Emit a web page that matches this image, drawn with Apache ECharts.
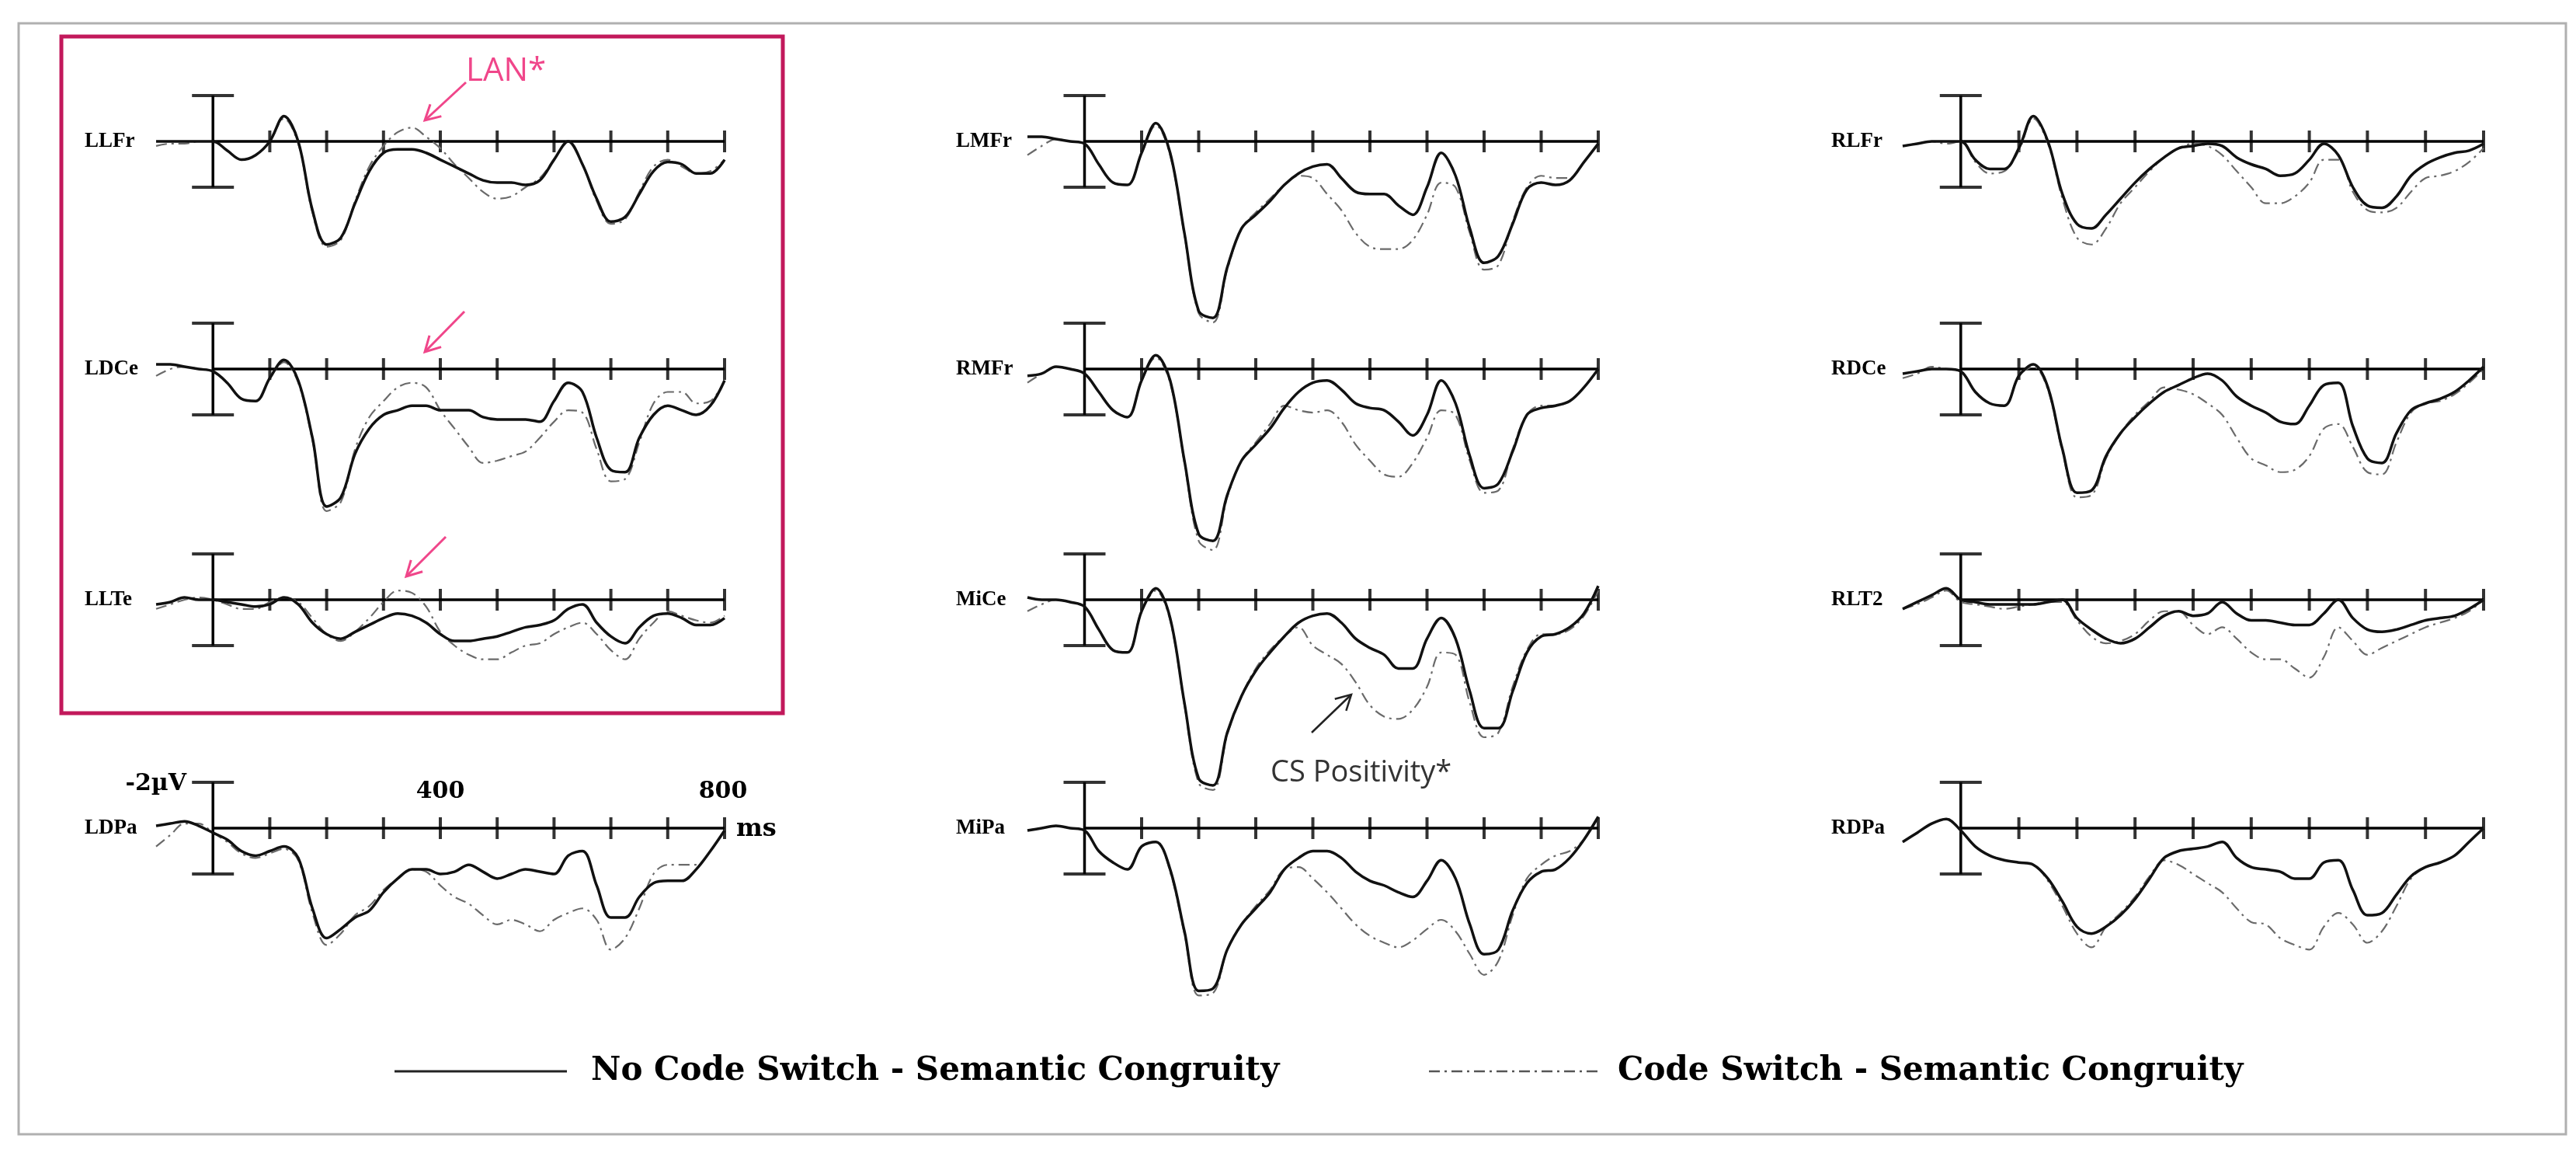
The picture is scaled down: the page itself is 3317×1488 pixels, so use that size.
<!DOCTYPE html>
<html>
<head>
<meta charset="utf-8">
<script src="https://cdn.jsdelivr.net/npm/echarts@6/dist/echarts.min.js"></script>
<style>
  html, body { margin: 0; padding: 0; background: #fff; }
  #chart { width: 3317px; height: 1488px; }
</style>
</head>
<body>
<div id="chart"></div>
<script>
// time points (ms), sampled every 25 ms
const times = [-100,-75,-50,-25,0,25,50,75,100,125,150,175,200,225,250,275,300,325,350,375,400,
  425,450,475,500,525,550,575,600,625,650,675,700,725,750,775,800,825,850,875,900];
const tickTimes = [100,200,300,400,500,600,700,800,900];

// amplitudes in µV (positive plotted downward)
const llfrSolid  = [0,0,0,0,0, 0.4,0.8,0.6,0, -1.1,0,3.0,4.5, 4.2,2.7,1.3,0.5, 0.35,0.35,0.5,0.8, 1.1,1.4,1.7,1.8, 1.8,1.9,1.7,0.8, 0,1.0,2.5,3.5, 3.3,2.3,1.3,0.9, 1.0,1.4,1.4,0.8];
const llfrDashed = [0.2,0.1,0.1,0,0, 0.4,0.8,0.6,0, -1.0,0.1,3.1,4.6, 4.3,2.6,1.1,0.2, -0.4,-0.6,-0.2,0.3, 1.0,1.6,2.2,2.5, 2.4,2.0,1.6,0.8, 0,1.0,2.6,3.6, 3.4,2.2,1.1,0.8, 1.1,1.4,1.3,0.8];
const ldceSolid  = [-0.2,-0.2,-0.1,0,0.1, 0.6,1.3,1.4,0.4, -0.4,0.5,3.0,6.0, 5.6,3.7,2.6,2.0, 1.8,1.6,1.6,1.8, 1.8,1.8,2.1,2.2, 2.2,2.2,2.3,1.4, 0.6,1.0,3.0,4.4, 4.5,3.0,2.0,1.6, 1.8,2.0,1.6,0.5];
const ldceDashed = [0.3,0,-0.1,0,0.1, 0.6,1.3,1.4,0.4, -0.3,0.6,3.1,6.2, 5.8,3.5,2.1,1.4, 0.8,0.6,0.8,1.8, 2.6,3.4,4.1,4.0, 3.8,3.6,3.0,2.3, 1.8,1.9,3.5,4.9, 4.8,3.2,1.5,1.0, 1.0,1.5,1.4,0.5];
const llteSolid  = [0.2,0.1,-0.1,0,0, 0.1,0.2,0.3,0.2, -0.1,0.2,1.0,1.5, 1.7,1.4,1.1,0.8, 0.6,0.7,1.0,1.5, 1.8,1.8,1.7,1.6, 1.4,1.2,1.1,0.9, 0.4,0.2,1.0,1.6, 1.9,1.2,0.7,0.6, 0.8,1.1,1.1,0.8];
const llteDashed = [0.4,0.2,0,-0.1,0, 0.2,0.4,0.4,0.1, -0.1,0.1,0.8,1.5, 1.8,1.4,0.8,0.1, -0.4,-0.3,0.3,1.4, 2.0,2.4,2.6,2.6, 2.3,2.0,1.9,1.5, 1.2,1.0,1.5,2.2, 2.6,1.7,1.0,0.5, 0.7,0.9,1.0,0.7];
const ldpaSolid  = [-0.1,-0.2,-0.3,-0.1,0.2, 0.5,1.0,1.2,1.0, 0.8,1.3,3.5,4.8, 4.4,3.9,3.6,2.8, 2.2,1.8,1.8,2.0, 1.9,1.6,1.9,2.2, 2.0,1.8,1.9,2.0, 1.2,1.0,2.5,3.9, 3.9,3.0,2.4,2.3, 2.3,1.8,1.0,0.1];
const ldpaDashed = [0.8,0.3,-0.2,-0.2,0.2, 0.6,1.1,1.3,1.1, 0.9,1.4,3.7,5.1, 4.6,3.8,3.4,2.7, 2.2,1.8,1.9,2.5, 3.0,3.3,3.8,4.2, 4.0,4.2,4.5,4.0, 3.7,3.5,4.0,5.3, 4.8,3.5,2.0,1.6, 1.6,1.6,1.0,0.1];

const lmfrSolid  = [-0.2,-0.2,-0.1,0,0.1, 1.0,1.8,1.9,0.5, -0.8,0.5,4.0,7.4, 7.7,5.5,3.8,3.2, 2.6,1.9,1.4,1.1, 1.0,1.6,2.2,2.3, 2.3,2.8,3.2,2.0, 0.5,1.5,3.8,5.3, 5.0,3.6,2.1,1.8, 1.9,1.7,0.9,0.1];
const lmfrDashed = [0.6,0.2,-0.1,0,0.1, 1.0,1.8,1.9,0.5, -0.7,0.6,4.1,7.5, 7.9,5.6,3.8,3.1, 2.5,1.9,1.5,1.6, 2.3,3.0,4.0,4.6, 4.7,4.7,4.3,3.2, 1.8,2.0,4.0,5.6, 5.4,3.5,2.0,1.5, 1.6,1.6,0.9,0.1];
const rmfrSolid  = [0.3,0.2,-0.1,0,0.2, 1.0,1.8,2.1,0.5, -0.6,0.5,4.0,7.2, 7.5,5.5,4.0,3.3, 2.6,1.7,1.0,0.6, 0.5,0.9,1.5,1.7, 1.8,2.3,2.9,2.0, 0.5,1.5,3.8,5.2, 5.0,3.6,2.0,1.7, 1.6,1.4,0.8,0.0];
const rmfrDashed = [0.6,0.2,-0.1,0,0.2, 1.0,1.8,2.1,0.5, -0.5,0.6,4.1,7.5, 7.9,5.6,4.0,3.2, 2.4,1.6,1.8,1.9, 1.8,2.3,3.3,4.0, 4.6,4.7,4.1,3.0, 1.8,2.0,4.0,5.4, 5.3,3.5,2.0,1.6, 1.6,1.4,0.8,0.0];
const miceSolid  = [-0.1,0,0,0.1,0.3, 1.3,2.2,2.3,0.5, -0.5,0.8,4.5,7.8, 8.1,5.8,4.2,3.1, 2.3,1.6,1.0,0.7, 0.6,1.0,1.7,2.1, 2.4,3.0,3.0,1.7, 0.8,1.7,4.0,5.6, 5.6,4.0,2.3,1.6, 1.5,1.2,0.6,-0.6];
const miceDashed = [0.5,0.2,0,0.1,0.3, 1.3,2.2,2.3,0.5, -0.4,0.9,4.6,8.0, 8.3,5.9,4.2,3.0, 2.2,1.6,1.2,2.0, 2.4,2.8,3.6,4.6, 5.1,5.2,4.8,3.8, 2.3,2.4,4.5,6.0, 5.8,3.8,2.2,1.5, 1.5,1.3,0.7,-0.4];
const mipaSolid  = [0.1,0,-0.1,0,0.1, 1.0,1.5,1.8,0.8, 0.6,1.8,4.5,7.1, 7.0,5.3,4.2,3.5, 2.8,1.8,1.3,1.0, 1.0,1.3,1.9,2.3, 2.5,2.8,3.0,2.3, 1.4,2.2,4.2,5.5, 5.3,3.6,2.4,1.9, 1.8,1.3,0.5,-0.5];
const mipaDashed = [0.1,0,-0.1,0,0.1, 1.0,1.5,1.8,0.8, 0.6,1.9,4.6,7.3, 7.2,5.3,4.2,3.4, 2.7,1.8,1.7,2.2, 2.8,3.5,4.2,4.7, 5.0,5.2,4.9,4.4, 4.0,4.5,5.5,6.4, 5.8,3.8,2.2,1.6, 1.2,1.0,0.5,-0.5];

const rlfrSolid  = [0.2,0.1,0,0,0, 0.8,1.2,1.2,0.3, -1.1,0,2.3,3.6, 3.8,3.2,2.5,1.8, 1.2,0.7,0.3,0.2, 0.1,0.2,0.7,1.0, 1.2,1.5,1.4,0.8, 0.1,0.6,2.0,2.8, 2.9,2.4,1.5,1.0, 0.7,0.5,0.4,0.1];
const rlfrDashed = [0.2,0.1,0,0.1,0, 0.9,1.4,1.3,0.4, -1.0,0.1,2.5,4.2, 4.5,3.8,2.7,2.0, 1.3,0.7,0.3,0.1, 0.2,0.6,1.3,2.0, 2.7,2.7,2.4,1.8, 0.8,0.8,2.2,3.0, 3.1,2.9,2.2,1.6, 1.5,1.3,0.9,0.3];
const rdceSolid  = [0.2,0.1,0,0,0.1, 1.0,1.5,1.6,0.3, -0.2,0.8,3.5,5.4, 5.3,3.8,2.8,2.1, 1.5,1.0,0.7,0.4, 0.2,0.5,1.2,1.6, 1.9,2.3,2.4,1.6, 0.7,0.6,2.5,3.9, 4.1,2.8,1.8,1.5, 1.3,1.0,0.5,-0.1];
const rdceDashed = [0.4,0.2,-0.1,0,0.1, 1.0,1.5,1.6,0.3, -0.1,0.9,3.6,5.6, 5.5,3.9,2.8,2.0, 1.4,0.8,0.9,1.1, 1.5,2.0,3.0,3.9, 4.2,4.5,4.4,3.8, 2.6,2.4,3.4,4.5, 4.6,3.2,1.9,1.5, 1.4,1.1,0.6,0.0];
const rlt2Solid  = [0.4,0.1,-0.2,-0.5,0, 0.1,0.2,0.2,0.2, 0.2,0.1,0,0.8, 1.3,1.7,1.9,1.7, 1.2,0.7,0.5,0.7, 0.6,0.1,0.6,0.9, 0.9,1.0,1.1,1.1, 0.6,0,0.8,1.3, 1.4,1.3,1.1,0.9, 0.8,0.7,0.4,0];
const rlt2Dashed = [0.4,0.2,-0.1,-0.4,0.1, 0.2,0.3,0.4,0.3, 0.2,0.1,0.1,0.9, 1.6,1.9,1.8,1.5, 0.9,0.5,0.5,1.1, 1.5,1.2,1.7,2.3, 2.6,2.6,3.0,3.4, 2.5,1.2,1.8,2.4, 2.1,1.8,1.5,1.2, 1.0,0.8,0.5,0];
const rdpaSolid  = [0.6,0.2,-0.2,-0.4,0.1, 0.8,1.2,1.4,1.5, 1.6,2.2,3.2,4.3, 4.6,4.3,3.8,3.1, 2.2,1.3,1.0,0.9, 0.8,0.6,1.3,1.7, 1.8,1.9,2.2,2.2, 1.5,1.4,2.7,3.8, 3.7,2.9,2.1,1.7, 1.5,1.2,0.6,0];
const rdpaDashed = [0.6,0.2,-0.2,-0.4,0.1, 0.8,1.2,1.4,1.5, 1.6,2.3,3.4,4.6, 5.2,4.3,3.7,3.0, 2.1,1.4,1.6,2.0, 2.4,2.8,3.5,4.1, 4.2,4.8,5.1,5.3, 4.3,3.7,4.2,5.0, 4.5,3.4,2.2,1.7, 1.5,1.2,0.6,0];

// panel layout: [label, solid, dashed, column, row]
const panels = [
  ['LLFr', llfrSolid, llfrDashed, 0, 0], ['LDCe', ldceSolid, ldceDashed, 0, 1],
  ['LLTe', llteSolid, llteDashed, 0, 2], ['LDPa', ldpaSolid, ldpaDashed, 0, 3],
  ['LMFr', lmfrSolid, lmfrDashed, 1, 0], ['RMFr', rmfrSolid, rmfrDashed, 1, 1],
  ['MiCe', miceSolid, miceDashed, 1, 2], ['MiPa', mipaSolid, mipaDashed, 1, 3],
  ['RLFr', rlfrSolid, rlfrDashed, 2, 0], ['RDCe', rdceSolid, rdceDashed, 2, 1],
  ['RLT2', rlt2Solid, rlt2Dashed, 2, 2], ['RDPa', rdpaSolid, rdpaDashed, 2, 3]
];
const colLeft = [201, 1323, 2450];
const colWidth = [732, 735, 748];
const rowY = [182, 475, 772, 1066];
const pxPerUv = 29.5;
const yMin = -3, yMax = 9;

const chart = echarts.init(document.getElementById('chart'));
const grids = [], xAxes = [], yAxes = [], series = [], graphics = [];
const serif = '"Liberation Serif", "DejaVu Serif", serif';

panels.forEach(function(p, i) {
  const [label, solid, dashed, col, row] = p;
  grids.push({
    left: colLeft[col], width: colWidth[col],
    top: rowY[row] - (-yMin) * pxPerUv, height: (yMax - yMin) * pxPerUv
  });
  xAxes.push({ gridIndex: i, type: 'value', min: -100, max: 900, show: false });
  yAxes.push({ gridIndex: i, type: 'value', min: yMin, max: yMax, inverse: true, show: false });
  const base = { xAxisIndex: i, yAxisIndex: i, silent: true, animation: false };
  series.push(Object.assign({}, base, {
    type: 'line', symbol: 'none', smooth: 0.35, z: 4,
    data: times.map((t, k) => [t, dashed[k]]),
    lineStyle: { color: '#6a6a6a', width: 2.2, type: [14, 6, 3, 6] }
  }));
  series.push(Object.assign({}, base, {
    type: 'line', symbol: 'none', smooth: 0.35, z: 5,
    data: times.map((t, k) => [t, solid[k]]),
    lineStyle: { color: '#111', width: 3.5 }
  }));
  // zero line and calibration bar
  series.push(Object.assign({}, base, {
    type: 'line', symbol: 'none', z: 3, data: [[0, 0], [900, 0]],
    lineStyle: { color: '#000', width: 3.5 }
  }));
  series.push(Object.assign({}, base, {
    type: 'line', symbol: 'none', z: 3, data: [[0, -2], [0, 2]],
    lineStyle: { color: '#000', width: 3.5 }
  }));
  series.push(Object.assign({}, base, {
    type: 'scatter', symbol: 'rect', symbolSize: [54, 4], z: 3,
    data: [[0, -2], [0, 2]], itemStyle: { color: '#000' }
  }));
  series.push(Object.assign({}, base, {
    type: 'scatter', symbol: 'rect', symbolSize: [4, 28], z: 3,
    data: tickTimes.map(t => [t, 0]), itemStyle: { color: '#000' }
  }));
  graphics.push({
    type: 'text', x: colLeft[col] - 92, y: rowY[row],
    style: { text: label, fill: '#000', font: 'bold 27px ' + serif, align: 'left', verticalAlign: 'middle' }
  });
});

// arrows for the annotations
function arrow(x1, y1, x2, y2, color, w) {
  const a = Math.atan2(y2 - y1, x2 - x1), L = 22;
  graphics.push({ type: 'line', shape: { x1, y1, x2, y2 }, style: { stroke: color, lineWidth: w } });
  graphics.push({ type: 'polyline', shape: { points: [
    [x2 - L * Math.cos(a - 0.5), y2 - L * Math.sin(a - 0.5)], [x2, y2],
    [x2 - L * Math.cos(a + 0.5), y2 - L * Math.sin(a + 0.5)]] },
    style: { stroke: color, lineWidth: w, fill: null } });
}
const pink = '#f0468a';
arrow(600, 106, 547, 155, pink, 3);
arrow(598, 401, 547, 453, pink, 3);
arrow(574, 691, 523, 742, pink, 3);
arrow(1689, 943, 1740, 894, '#222', 2.5);

graphics.push(
  { type: 'rect', shape: { x: 79, y: 47, width: 929, height: 871 }, style: { fill: null, stroke: '#c2185b', lineWidth: 5 } },
  { type: 'rect', shape: { x: 24, y: 30, width: 3280, height: 1430 }, style: { fill: null, stroke: '#b0b0b0', lineWidth: 3 } },
  { type: 'text', x: 600, y: 92, style: { text: 'LAN*', fill: pink, font: '42px "Open Sans", sans-serif', verticalAlign: 'middle' } },
  { type: 'text', x: 1636, y: 995, style: { text: 'CS Positivity*', fill: '#333', font: '38px "Open Sans", sans-serif', verticalAlign: 'middle' } },
  { type: 'text', x: 240, y: 1009, style: { text: '-2µV', fill: '#000', font: 'bold 30px "DejaVu Serif", serif', align: 'right', verticalAlign: 'middle' } },
  { type: 'text', x: 567, y: 1019, style: { text: '400', fill: '#000', font: 'bold 30px "DejaVu Serif", serif', align: 'center', verticalAlign: 'middle' } },
  { type: 'text', x: 931, y: 1019, style: { text: '800', fill: '#000', font: 'bold 30px "DejaVu Serif", serif', align: 'center', verticalAlign: 'middle' } },
  { type: 'text', x: 948, y: 1068, style: { text: 'ms', fill: '#000', font: 'bold 32px "DejaVu Serif", serif', verticalAlign: 'middle' } },
  // legend
  { type: 'line', shape: { x1: 508, y1: 1379, x2: 730, y2: 1379 }, style: { stroke: '#222', lineWidth: 3 } },
  { type: 'text', x: 761, y: 1379, style: { text: 'No Code Switch - Semantic Congruity', fill: '#000', font: 'bold 42px "DejaVu Serif", serif', verticalAlign: 'middle' } },
  { type: 'line', shape: { x1: 1840, y1: 1379, x2: 2062, y2: 1379 }, style: { stroke: '#555', lineWidth: 2.5, lineDash: [14, 6, 3, 6] } },
  { type: 'text', x: 2083, y: 1379, style: { text: 'Code Switch - Semantic Congruity', fill: '#000', font: 'bold 42px "DejaVu Serif", serif', verticalAlign: 'middle' } }
);

chart.setOption({
  backgroundColor: '#fff',
  animation: false,
  grid: grids,
  xAxis: xAxes,
  yAxis: yAxes,
  series: series,
  graphic: graphics
});
</script>
</body>
</html>
